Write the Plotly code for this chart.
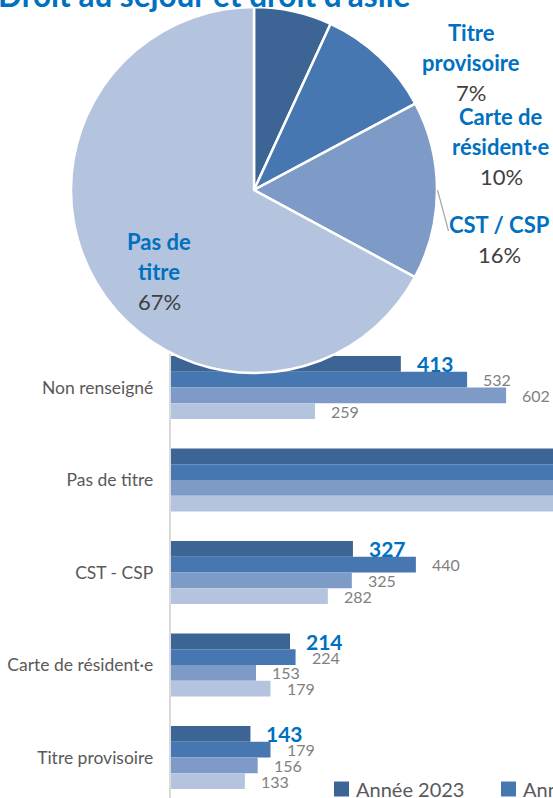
import plotly.graph_objects as go

W, H = 553, 798

# ---------------- data ----------------
categories = ["Non renseigné", "Pas de titre", "CST - CSP", "Carte de résident·e", "Titre provisoire"]
series_names = ["Année 2023", "Année 2022", "Année 2021", "Année 2020"]
values_2023 = [413, 1395, 327, 214, 143]
values_2022 = [532, 1450, 440, 224, 179]
values_2021 = [602, 1300, 325, 153, 156]
values_2020 = [259, 1200, 282, 179, 133]
series_colors = ["#3C6494", "#4777B0", "#7E9BC7", "#B4C4DE"]

pie_labels = ["Titre provisoire", "Carte de résident·e", "CST / CSP", "Pas de titre"]
pie_label_lines = [["Titre", "provisoire"], ["Carte de", "résident·e"], ["CST / CSP"], ["Pas de", "titre"]]
pie_values = [143, 214, 327, 1395]

title_text = "Droit au séjour et droit d'asile"

# ---------------- style helpers ----------------
FONT = "Lato"
BLUE = "#0070C0"
GREY = "#7F7F7F"
DARK = "#404040"


def px(x):
    return x / W


def py(y):
    return 1 - y / H


series = [values_2023, values_2022, values_2021, values_2020]

x_origin = 170.8
px_per_unit = 0.557
x_max = (W - x_origin) / px_per_unit
bargap = 0.32
y_top = 341.25
cat_px = 92.5
y_range_bottom = (H - y_top) / cat_px - 0.5

fig = go.Figure()

for name, vals, col in zip(series_names, series, series_colors):
    fig.add_trace(go.Bar(
        y=categories, x=vals, name=name, orientation="h",
        marker=dict(color=col, line=dict(width=0)),
        showlegend=False, hoverinfo="x+name",
    ))

fig.add_trace(go.Pie(
    values=pie_values, labels=pie_labels, sort=False, direction="clockwise",
    rotation=0, textinfo="none", showlegend=False,
    marker=dict(colors=series_colors, line=dict(color="white", width=2.5)),
    domain=dict(x=[px(71), px(437)], y=[py(373), py(7)]),
))

annotations = []

# value labels for the bars
bw = (1 - bargap) / len(series)
for i, vals in enumerate(series):
    for j, v in enumerate(vals):
        if v >= x_max:
            continue
        if i == 0:
            txt = f"<b>{v}</b>"
            fnt = dict(family=FONT, size=21, color=BLUE)
        else:
            txt = str(v)
            fnt = dict(family=FONT, size=16, color=GREY)
        annotations.append(dict(
            x=v, y=j + (i - (len(series) - 1) / 2) * bw, xref="x", yref="y",
            text=txt, showarrow=False, xanchor="left", yanchor="middle",
            xshift=14, font=fnt,
        ))

# pie labels
pie_label_pos = [(471, 33), (501, 117), (499.5, 225), (159, 242)]
line_step = 29.5
total = sum(pie_values)
for lines, v, (cx, cy) in zip(pie_label_lines, pie_values, pie_label_pos):
    for k, ln in enumerate(lines):
        annotations.append(dict(
            x=px(cx), y=py(cy + k * line_step), xref="paper", yref="paper",
            text=f"<b>{ln}</b>", showarrow=False, xanchor="center", yanchor="middle",
            font=dict(family=FONT, size=22, color=BLUE),
        ))
    annotations.append(dict(
        x=px(cx), y=py(cy + len(lines) * line_step), xref="paper", yref="paper",
        text=f"{round(v / total * 100)}%", showarrow=False, xanchor="center", yanchor="middle",
        font=dict(family=FONT, size=22, color=DARK),
    ))

# title (cropped at top)
annotations.append(dict(
    x=px(412), y=py(-4.5), xref="paper", yref="paper", text=f"<b>{title_text}</b>",
    showarrow=False, xanchor="right", yanchor="middle",
    font=dict(family=FONT, size=31.5, color=BLUE),
))

# custom legend (cropped at the right)
shapes = []
leg_x0, leg_pitch, leg_y = 334, 167, 789
for k, (name, col) in enumerate(zip(series_names, series_colors)):
    x0 = leg_x0 + k * leg_pitch
    shapes.append(dict(type="rect", xref="paper", yref="paper",
                       x0=px(x0), x1=px(x0 + 15), y0=py(leg_y + 7.5), y1=py(leg_y - 7.5),
                       fillcolor=col, line=dict(width=0)))
    annotations.append(dict(
        x=px(x0 + 20), y=py(leg_y), xref="paper", yref="paper", text=name,
        showarrow=False, xanchor="left", yanchor="middle",
        font=dict(family=FONT, size=20, color="#595959"),
    ))

# leader line for CST / CSP
shapes.append(dict(type="line", xref="paper", yref="paper",
                   x0=px(437.5), y0=py(190), x1=px(448.5), y1=py(231),
                   line=dict(color="#A6A6A6", width=1.2)))

fig.update_layout(
    width=W, height=H, margin=dict(l=0, r=0, t=0, b=0),
    paper_bgcolor="white", plot_bgcolor="rgba(0,0,0,0)",
    barmode="group", bargap=bargap, bargroupgap=0,
    showlegend=False,
    xaxis=dict(domain=[px(x_origin), 1], range=[0, x_max], visible=False),
    yaxis=dict(domain=[0, py(y_top)], type="category", categoryorder="array",
               categoryarray=categories, range=[y_range_bottom, -0.5],
               showline=True, linecolor="#D9D9D9", linewidth=2, ticks="",
               showgrid=False, zeroline=False, ticklabelstandoff=12,
               tickfont=dict(family=FONT, size=17.5, color="#595959")),
    annotations=annotations, shapes=shapes,
    font=dict(family=FONT),
)

fig.write_html(
    "out.html",
    config={"displayModeBar": False},
    post_script="document.body.style.margin='0';document.body.style.overflow='hidden';",
)
